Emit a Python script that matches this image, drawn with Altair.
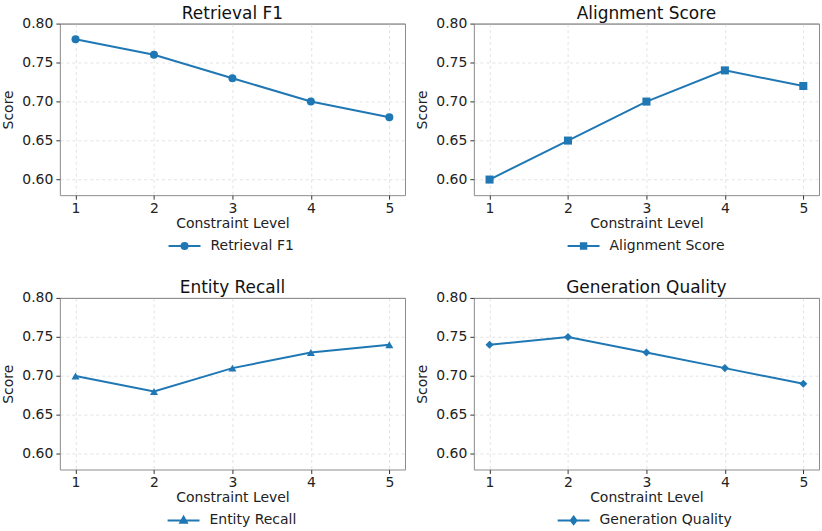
import altair as alt
import pandas as pd

# ---- data ----
levels = [1, 2, 3, 4, 5]
retrieval_f1 = [0.78, 0.76, 0.73, 0.70, 0.68]
alignment_score = [0.60, 0.65, 0.70, 0.74, 0.72]
entity_recall = [0.70, 0.68, 0.71, 0.73, 0.74]
generation_quality = [0.74, 0.75, 0.73, 0.71, 0.69]

titles = ["Retrieval F1", "Alignment Score", "Entity Recall", "Generation Quality"]
series = [retrieval_f1, alignment_score, entity_recall, generation_quality]
y_ticks = [0.60, 0.65, 0.70, 0.75, 0.80]

# ---- styles ----
COLOR = "#1f77b4"
FONT = "DejaVu Sans"
BORDER = "#8c8c8c"
GRID = "#dcdcdc"
shapes = ["circle", "square", "triangle-up", "diamond"]
LINE = "M-1,0H1 "
legend_paths = [
    LINE + "M0.19,0A0.19,0.19,0,1,1,-0.19,0A0.19,0.19,0,1,1,0.19,0Z",
    LINE + "M-0.17,-0.17H0.17V0.17H-0.17Z",
    LINE + "M0,-0.23L0.21,0.15L-0.21,0.15Z",
    LINE + "M0,-0.24L0.18,0L0,0.24L-0.18,0Z",
]
legend_x = [108, 93, 107, 83]
W, H = 346, 172


def panel(i):
    df = pd.DataFrame({"level": levels, "score": series[i], "metric": titles[i]})
    x = alt.X(
        "level:Q",
        scale=alt.Scale(domain=[0.8, 5.2], nice=False, zero=False),
        axis=alt.Axis(values=levels, format="d", title="Constraint Level",
                      labelPadding=2, titlePadding=1),
    )
    y = alt.Y(
        "score:Q",
        scale=alt.Scale(domain=[0.58, 0.80], nice=False, zero=False),
        axis=alt.Axis(
            values=y_ticks,
            format=".2f",
            title="Score",
            titlePadding=6,
            gridColor=alt.condition("datum.value >= 0.799", alt.value(BORDER), alt.value(GRID)),
            gridDash=alt.condition("datum.value >= 0.799", alt.value([]), alt.value([3, 3])),
        ),
    )
    color = alt.Color(
        "metric:N",
        scale=alt.Scale(domain=[titles[i]], range=[COLOR]),
        legend=alt.Legend(
            title=None,
            orient="none",
            legendX=legend_x[i],
            legendY=206,
            direction="horizontal",
            symbolType=legend_paths[i],
            symbolSize=1024,
            symbolStrokeWidth=2,
            symbolFillColor=COLOR,
            symbolStrokeColor=COLOR,
            labelFontSize=14,
            labelFont=FONT,
            labelColor="#222222",
            labelOffset=9,
        ),
    )
    base = alt.Chart(df)
    line = base.mark_line(strokeWidth=2).encode(x=x, y=y, color=color)
    pts = base.mark_point(shape=shapes[i], filled=True, size=65, opacity=1).encode(
        x=x, y=y, color=color
    )
    return alt.layer(line, pts).properties(
        width=W, height=H, title=alt.Title(titles[i])
    )


def row(a, b):
    return (
        alt.hconcat(panel(a), panel(b), spacing=9)
        .resolve_scale(color="independent")
        .resolve_legend(color="independent")
    )


chart = (
    alt.vconcat(row(0, 1), row(2, 3), spacing=23)
    .resolve_scale(color="independent")
    .resolve_legend(color="independent")
    .properties(padding={"left": 1, "top": 3, "right": 2, "bottom": 0})
    .configure_view(stroke=BORDER, strokeWidth=1)
    .configure_axis(
        domain=False,
        grid=True,
        gridColor=GRID,
        gridDash=[3, 3],
        gridWidth=0.8,
        ticks=True,
        tickColor="#333333",
        tickSize=4,
        labelFont=FONT,
        labelFontSize=14,
        labelColor="#222222",
        labelPadding=3,
        titleFont=FONT,
        titleFontSize=14,
        titleFontWeight="normal",
        titleColor="#222222",
        titlePadding=4,
    )
    .configure_title(
        font=FONT, fontSize=17, fontWeight="normal", color="#111111", offset=-6
    )
)

chart.save("out.html", embed_options={"renderer": "svg", "actions": False})
